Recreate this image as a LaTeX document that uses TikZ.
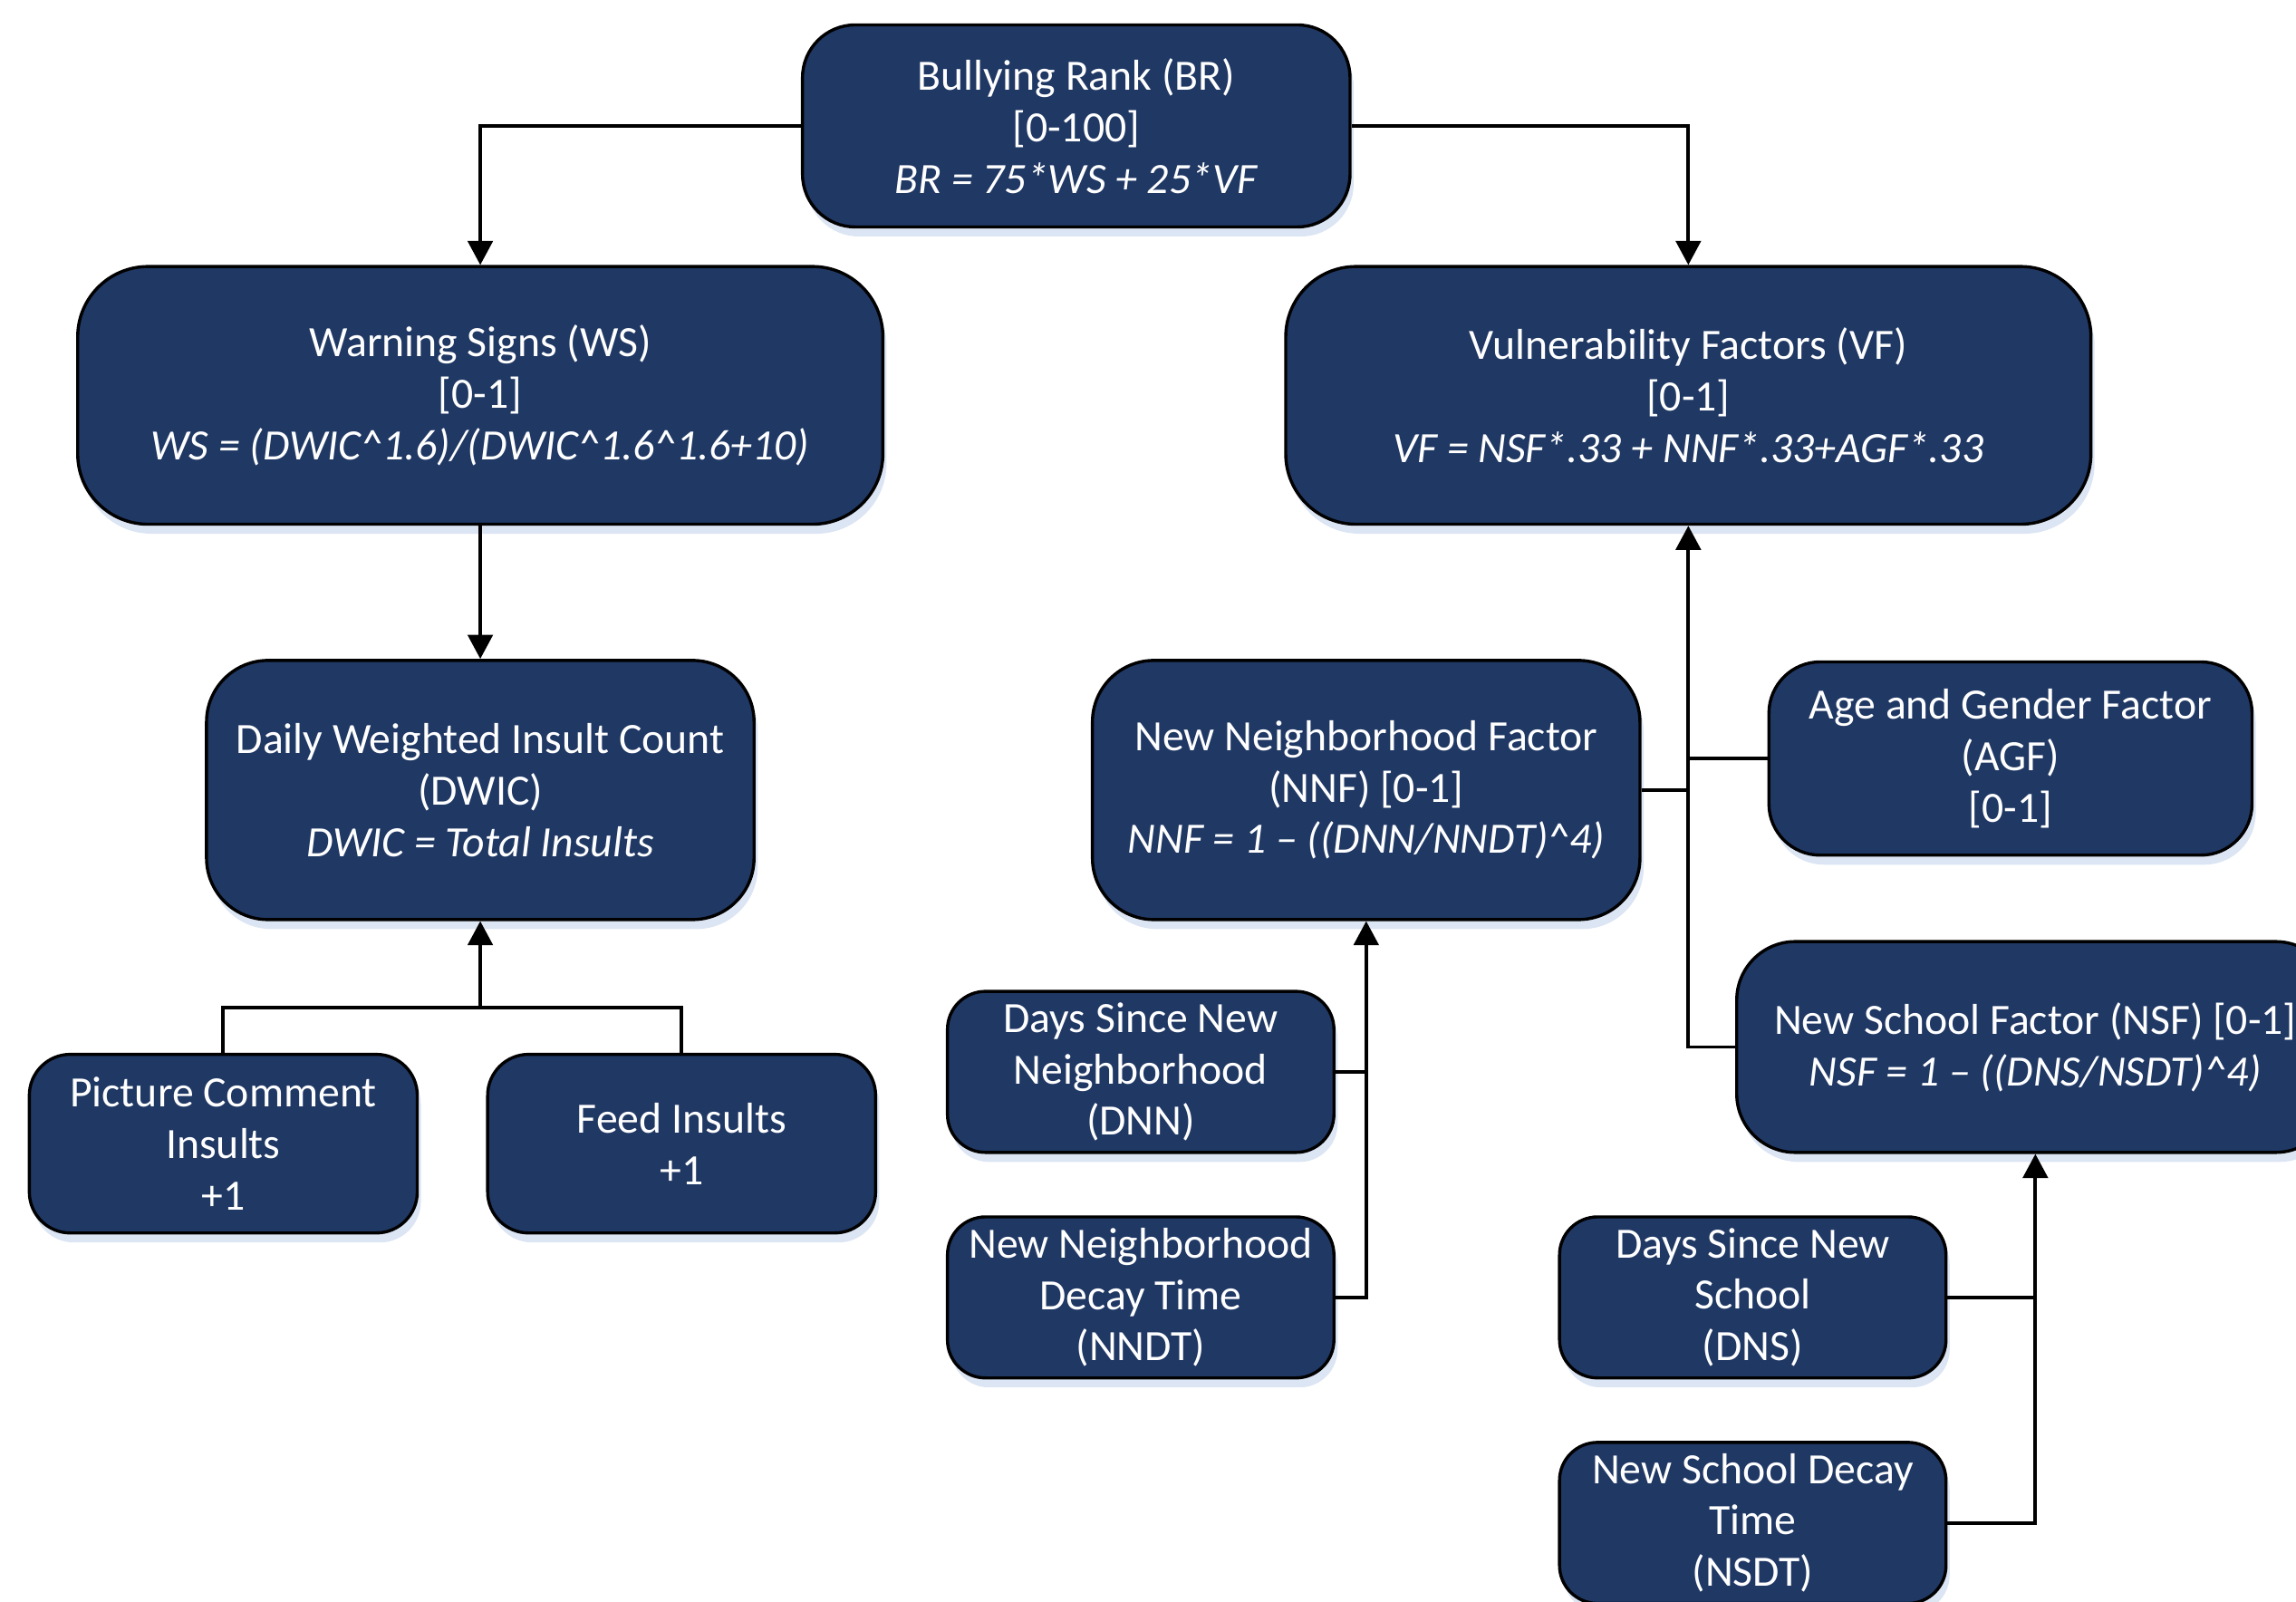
\documentclass[tikz,border=0pt]{standalone}
\usepackage{fontspec}
\setmainfont{Carlito}
\usetikzlibrary{arrows.meta,shadows}
\definecolor{navy}{RGB}{32,56,100}
\definecolor{shade}{RGB}{205,218,238}
\tikzset{
  box/.style={draw=black, line width=1.2pt, fill=navy, text=white, align=center,
    inner sep=0pt, font=\fontsize{16.8}{20}\selectfont,
    drop shadow={shadow xshift=0.5mm, shadow yshift=-1.3mm, fill=shade, opacity=0.7}},
  line/.style={draw=black, line width=1.4pt},
  conn/.style={line, -{Triangle[length=3.3mm,width=3.4mm]}},
}
\begin{document}
\begin{tikzpicture}[x=0.02cm, y=-0.02cm]
\useasboundingbox (0,0) rectangle (1568,1094);
% nodes
\node[box, minimum width=74.8mm, minimum height=27.6mm, rounded corners=7.2mm] (br) at (735,86)
  {Bullying Rank (BR)\\ {[0-100]}\\ \textit{BR = 75*WS + 25*VF}};
\node[box, minimum width=110mm, minimum height=35.2mm, rounded corners=9.6mm] (ws) at (328,270)
  {Warning Signs (WS)\\ {[0-1]}\\ \textit{WS = (DWIC\textasciicircum1.6)/(DWIC\textasciicircum1.6\textasciicircum1.6+10)}};
\node[box, minimum width=110mm, minimum height=35.2mm, rounded corners=9.6mm] (vf) at (1153,270)
  {Vulnerability Factors (VF)\\ {[0-1]}\\ \textit{VF = NSF*.33 + NNF*.33+AGF*.33}};
\node[box, minimum width=74.8mm, minimum height=35.4mm, rounded corners=8.4mm] (dwic) at (328,539.5)
  {Daily Weighted Insult Count\\ (DWIC)\\ \textit{DWIC = Total Insults}};
\node[box, minimum width=74.8mm, minimum height=35.4mm, rounded corners=8.4mm] (nnf) at (933,539.5)
  {New Neighborhood Factor\\ (NNF) [0-1]\\ \textit{NNF = 1 -- ((DNN/NNDT)\textasciicircum4)}};
\node[box, minimum width=66mm, minimum height=26.4mm, rounded corners=7mm] (agf) at (1373,518)
  {Age and Gender Factor\\ (AGF)\\ {[0-1]}};
\node[box, minimum width=81.6mm, minimum height=28.8mm, rounded corners=8mm] (nsf) at (1390,715)
  {New School Factor (NSF) [0-1]\\ \textit{NSF = 1 -- ((DNS/NSDT)\textasciicircum4)}};
\node[box, minimum width=53mm, minimum height=24.4mm, rounded corners=5.6mm] (pci) at (152.5,781)
  {Picture Comment\\ Insults\\ +1};
\node[box, minimum width=53mm, minimum height=24.4mm, rounded corners=5.6mm] (fi) at (465.5,781)
  {Feed Insults\\ +1};
\node[box, minimum width=52.8mm, minimum height=22mm, rounded corners=5.2mm] (dnn) at (779,732)
  {Days Since New\\ Neighborhood\\ (DNN)};
\node[box, minimum width=52.8mm, minimum height=22mm, rounded corners=5.2mm] (nndt) at (779,886)
  {New Neighborhood\\ Decay Time\\ (NNDT)};
\node[box, minimum width=52.8mm, minimum height=22mm, rounded corners=5.2mm] (dns) at (1197,886)
  {Days Since New\\ School\\ (DNS)};
\node[box, minimum width=52.8mm, minimum height=22mm, rounded corners=5.2mm] (nsdt) at (1197,1040)
  {New School Decay\\ Time\\ (NSDT)};
% helper coordinate
\coordinate (j1) at (328,688);
% connectors
\draw[conn] (br.west) -| (ws.north);
\draw[conn] (br.east) -| (vf.north);
\draw[conn] (ws.south) -- (dwic.north);
\draw[line] (pci.north) |- (j1) -| (fi.north);
\draw[conn] (j1) -- (dwic.south);
\draw[conn] (nsf.west) -| (vf.south);
\draw[line] (nnf.east) -- (nnf.east -| vf.south);
\draw[line] (agf.west) -- (agf.west -| vf.south);
\draw[conn] (nndt.east) -| (nnf.south);
\draw[line] (dnn.east) -- (dnn.east -| nnf.south);
\draw[conn] (nsdt.east) -| (nsf.south);
\draw[line] (dns.east) -- (dns.east -| nsf.south);
\end{tikzpicture}
\end{document}
